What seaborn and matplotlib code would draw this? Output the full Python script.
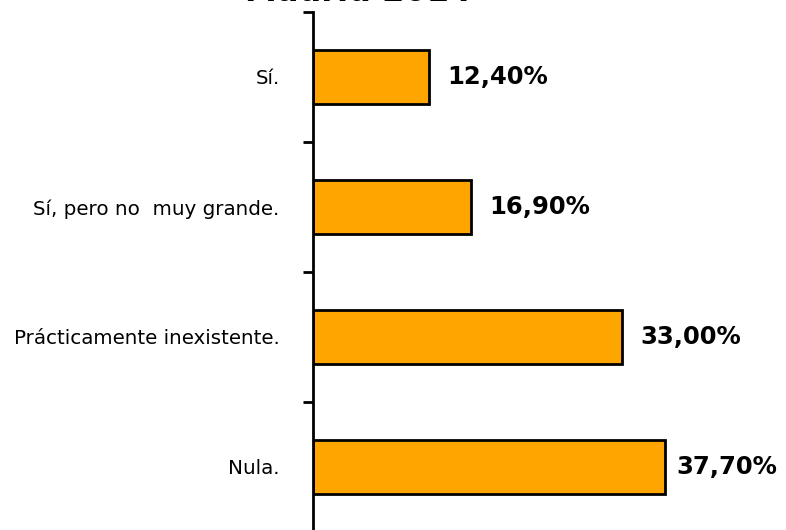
import matplotlib
matplotlib.use("Agg")
import matplotlib.pyplot as plt
import seaborn as sns
import pandas as pd

# datos
categorias = ["Sí.", "Sí, pero no  muy grande.", "Prácticamente inexistente.", "Nula."]
porcentajes = [12.4, 16.9, 33.0, 37.7]
etiquetas = ["12,40%", "16,90%", "33,00%", "37,70%"]
titulo = "Madrid 2014"

df = pd.DataFrame({"categoria": categorias, "valor": porcentajes})

sns.set_style("white")
plt.rcParams["font.family"] = ["DejaVu Sans"]
plt.rcParams["text.color"] = "black"
plt.rcParams["ytick.color"] = "black"
plt.rcParams["ytick.labelcolor"] = "black"

fig = plt.figure(figsize=(7.86, 5.30), dpi=100)
ax = fig.add_axes([313 / 786, -2 / 530, 420.75 / 786, 520 / 530])

sns.barplot(data=df, x="valor", y="categoria", orient="h", color="#FFA500",
            saturation=1, width=0.41, edgecolor="black", linewidth=2, ax=ax)

ax.set_xlim(0, 45)
ax.set_ylim(3.5, -0.5)
ax.set_xlabel("")
ax.set_ylabel("")
ax.set_xticks([])

for s in ["top", "right", "bottom"]:
    ax.spines[s].set_visible(False)
ax.spines["left"].set_linewidth(2)
ax.spines["left"].set_color("black")

# etiquetas en el centro, marcas entre categorias
ax.tick_params(axis="y", which="major", length=0, pad=24, labelsize=14.3, labelcolor="black")
ax.set_yticks([-0.5, 0.5, 1.5, 2.5], minor=True)
ax.tick_params(axis="y", which="minor", length=7, width=2, color="black", left=True)

for i, (v, t) in enumerate(zip(porcentajes, etiquetas)):
    # la ultima etiqueta se acerca a la barra para que quepa
    ax.text(min(v + 2.0, 38.9), i, t, va="center", ha="left", fontsize=17.5,
            fontweight="bold", color="black")

fig.text(358 / 786, 1 - 1 / 530, titulo, ha="center", va="baseline",
         fontsize=23, fontweight="bold", color="black")

fig.savefig("out.png", dpi=100)
